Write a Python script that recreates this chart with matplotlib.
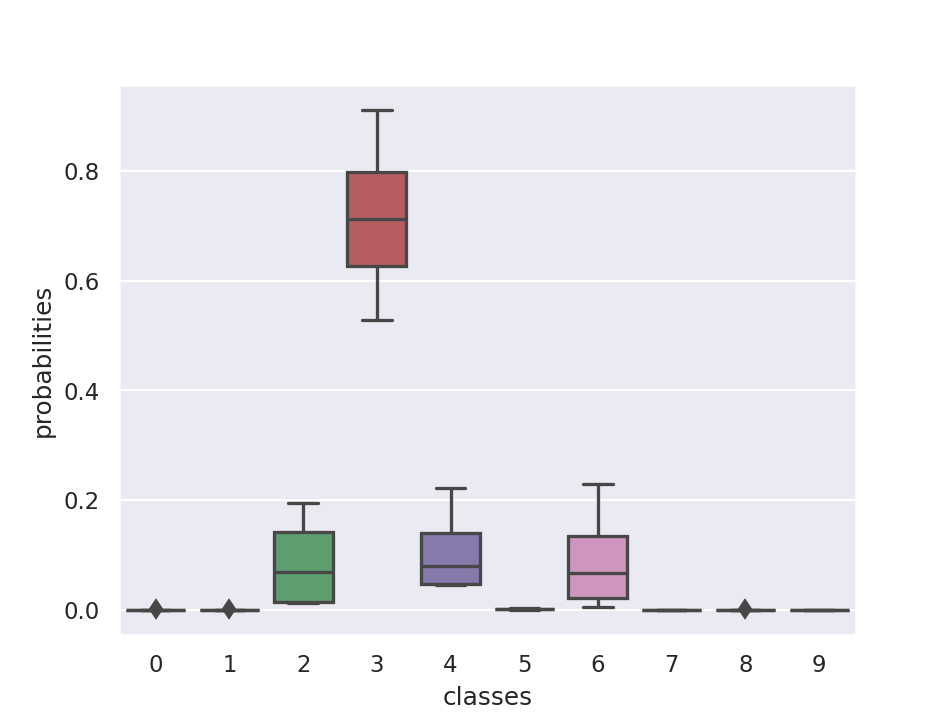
import matplotlib
matplotlib.use("Agg")
import matplotlib.pyplot as plt
import seaborn as sns

classes = ["0", "1", "2", "3", "4", "5", "6", "7", "8", "9"]
whislo = [0.0, 0.0, 0.012, 0.528, 0.0445, 0.0, 0.0055, 0.0, 0.0, 0.0]
q1 = [0.0, 0.0, 0.0134, 0.627, 0.046, 0.0003, 0.0214, 0.0, 0.0, 0.0]
med = [0.0, 0.0, 0.069, 0.712, 0.080, 0.0008, 0.066, 0.0, 0.0, 0.0]
q3 = [0.0, 0.0, 0.141, 0.799, 0.140, 0.0015, 0.135, 0.0, 0.0, 0.0]
whishi = [0.0, 0.0, 0.195, 0.911, 0.2216, 0.0025, 0.229, 0.0, 0.0, 0.0]
fliers = [[0.0008], [0.0006], [], [], [], [], [], [], [0.0007], []]

sns.set_theme(style="darkgrid")
fig, ax = plt.subplots(figsize=(6.4, 4.8), dpi=148.6)

stats = []
for i in range(len(classes)):
    stats.append(dict(whislo=whislo[i], q1=q1[i], med=med[i], q3=q3[i],
                      whishi=whishi[i], fliers=fliers[i], label=classes[i]))

gray = "#474747"
lw = 1.6
palette = [sns.desaturate(c, 0.75) for c in sns.color_palette("deep", 10)]
bp = ax.bxp(stats, positions=range(len(classes)), widths=0.8, patch_artist=True,
            boxprops=dict(edgecolor=gray, linewidth=lw),
            medianprops=dict(color=gray, linewidth=lw),
            whiskerprops=dict(color=gray, linewidth=lw, solid_capstyle="butt"),
            capprops=dict(color=gray, linewidth=lw),
            flierprops=dict(marker="d", markerfacecolor=gray, markeredgecolor=gray,
                            markersize=6.5, markeredgewidth=1.0, linestyle="none"))
for patch, c in zip(bp["boxes"], palette):
    patch.set_facecolor(c)
for cap in bp["caps"]:
    x = cap.get_xdata()
    cx = (x[0] + x[1]) / 2
    cap.set_xdata([cx - 0.2, cx + 0.2])

ax.set_xlim(-0.5, len(classes) - 0.5)
ax.set_xticks(range(len(classes)))
ax.set_xticklabels(classes)
ax.set_xlabel("classes")
ax.set_ylabel("probabilities")
ax.grid(axis="x", visible=False)
ax.set_yticks([0.0, 0.2, 0.4, 0.6, 0.8])

fig.savefig("out.png", dpi=148.6)
